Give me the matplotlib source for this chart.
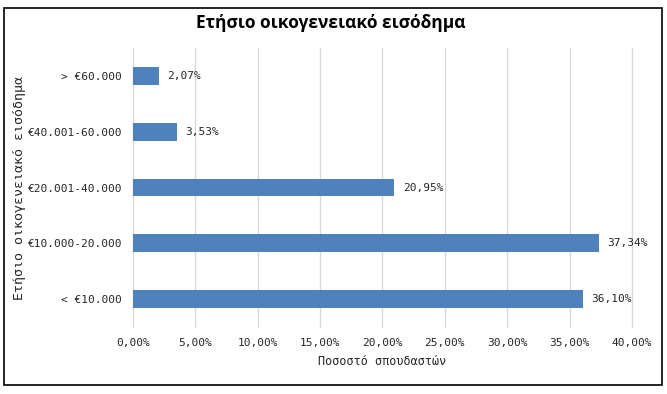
import matplotlib
matplotlib.use("Agg")
import matplotlib.pyplot as plt
from matplotlib.patches import Rectangle

categories = ["< €10.000", "€10.000-20.000", "€20.001-40.000", "€40.001-60.000", "> €60.000"]
values = [36.10, 37.34, 20.95, 3.53, 2.07]
xticks = [0, 5, 10, 15, 20, 25, 30, 35, 40]

W, H = 667, 394
fig = plt.figure(figsize=(W / 100, H / 100), dpi=100)
ax = fig.add_axes([133 / W, 1 - 327 / H, (632 - 133) / W, (327 - 48) / H])

mono = "DejaVu Sans Mono"
txt = "#262626"

y = list(range(len(categories)))
ax.barh(y, values, height=0.32, color="#4F81BD", zorder=3)
ax.set_ylim(-0.5, len(categories) - 0.5)
ax.set_xlim(0, 40)
ax.set_xticks(xticks)
ax.set_xticklabels([f"{v:.2f}%".replace(".", ",") for v in xticks], family=mono, fontsize=8, color=txt)
ax.set_yticks(y)
ax.set_yticklabels(categories, family=mono, fontsize=8, color=txt)
ax.grid(axis="x", color="#D9D9D9", linewidth=1, zorder=0)
for line in ax.get_xgridlines():
    line.set_clip_on(False)
for s in ax.spines.values():
    s.set_visible(False)
ax.tick_params(axis="both", length=0, pad=8)
ax.tick_params(axis="x", pad=8)

for yi, v in zip(y, values):
    ax.annotate(f"{v:.2f}%".replace(".", ","), (v, yi), xytext=(6, 0), textcoords="offset points",
                va="center", ha="left", family=mono, fontsize=8, color=txt)

ax.set_xlabel("Ποσοστό σπουδαστών", family=mono, fontsize=8.5, color=txt, labelpad=5)
fig.text(20 / W, 1 - 188 / H, "Ετήσιο οικογενειακό εισόδημα", rotation=90, ha="center", va="center",
         family=mono, fontsize=9.5, color=txt)
fig.text(331 / W, 1 - 23 / H, "Ετήσιο οικογενειακό εισόδημα", ha="center", va="center",
         family="Open Sans", fontweight="bold", fontsize=12.5, color="black")

fig.patches.append(Rectangle((4 / W, 1 - 385 / H), (662 - 4) / W, (385 - 8) / H,
                             transform=fig.transFigure, fill=False, edgecolor="black", linewidth=1.2))

fig.savefig("out.png", dpi=100, facecolor="white")
